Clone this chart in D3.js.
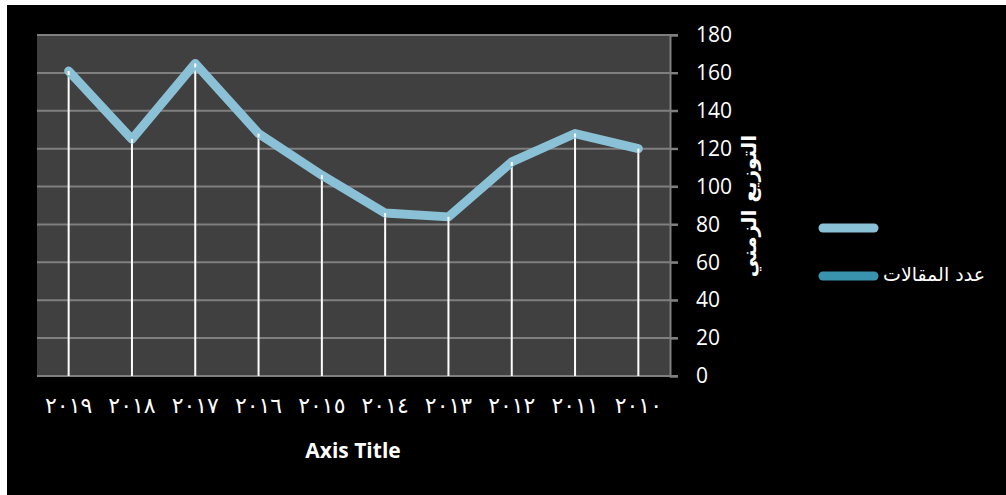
<!DOCTYPE html>
<html><head><meta charset="utf-8">
<script src="https://cdn.jsdelivr.net/npm/d3@7"></script>
<style>
html,body{margin:0;padding:0;background:#fff;}
svg{display:block;}
</style></head>
<body>
<svg id="c" width="1006" height="495"></svg>
<script>
const categories = ["٢٠١٩","٢٠١٨","٢٠١٧","٢٠١٦","٢٠١٥","٢٠١٤","٢٠١٣","٢٠١٢","٢٠١١","٢٠١٠"];
const seriesValues = [161, 125, 165, 128, 106, 86, 84, 113, 128, 120];
const yTicks = [0, 20, 40, 60, 80, 100, 120, 140, 160, 180];
const seriesName = "عدد المقالات";
const yTitle = "التوزيع الزمني";
const xTitle = "Axis Title";

(function(){
const svg = d3.select("#c");
svg.append("rect").attr("x",7).attr("y",5).attr("width",999).attr("height",490).attr("fill","#000");

const pl = 37, pr = 670, pt = 35, pb = 376;
const x = d3.scaleBand().domain(categories).range([pl, pr]);
const y = d3.scaleLinear().domain([0,180]).range([pb, pt]);

svg.append("rect").attr("x",pl).attr("y",pt).attr("width",pr-pl).attr("height",pb-pt).attr("fill","#404040");

svg.append("g").selectAll("line").data(yTicks).join("line")
  .attr("x1",pl).attr("x2",pr+8).attr("y1",d=>y(d)).attr("y2",d=>y(d))
  .attr("stroke","#7f7f7f").attr("stroke-width",2);

const yAxis = d3.axisRight(y).tickValues(yTicks).tickSize(8).tickPadding(18);
const ga = svg.append("g").attr("transform",`translate(${pr},0)`).call(yAxis);
ga.select(".domain").attr("stroke","#7f7f7f").attr("stroke-width",2);
ga.selectAll(".tick line").attr("stroke","#7f7f7f").attr("stroke-width",2);
ga.selectAll("text").attr("fill","#fff").attr("font-family","'Open Sans', 'Noto Sans', sans-serif").attr("font-size",21);

const xAxis = d3.axisBottom(x).tickSize(0).tickPadding(21);
const gx = svg.append("g").attr("transform",`translate(0,${pb})`).call(xAxis);
gx.select(".domain").remove();
gx.selectAll("text").attr("fill","#fff").attr("font-family","'DejaVu Sans', sans-serif").attr("font-size",22).attr("letter-spacing",1);

const cx = d => x(d) + x.bandwidth()/2;
svg.append("g").selectAll("line").data(categories).join("line")
  .attr("x1",d=>cx(d)).attr("x2",d=>cx(d))
  .attr("y1",(d,i)=>y(seriesValues[i])).attr("y2",pb)
  .attr("stroke","#fff").attr("stroke-width",2);

const line = d3.line().x((d,i)=>cx(categories[i])).y(d=>y(d));
svg.append("path").datum(seriesValues).attr("d",line)
  .attr("fill","none").attr("stroke","#8bc1d6").attr("stroke-width",9)
  .attr("stroke-linecap","round").attr("stroke-linejoin","round");

svg.append("g").selectAll("line").data(categories).join("line")
  .attr("x1",d=>cx(d)).attr("x2",d=>cx(d))
  .attr("y1",(d,i)=>y(seriesValues[i])).attr("y2",(d,i)=>y(seriesValues[i])+4)
  .attr("stroke","#fff").attr("stroke-width",2);

svg.append("text").attr("x",353).attr("y",458).attr("text-anchor","middle")
  .attr("fill","#fff").attr("font-family","'Open Sans', sans-serif").attr("font-weight","bold").attr("font-size",21).text(xTitle);
svg.append("text").attr("transform","translate(756,206) rotate(-90)").attr("text-anchor","middle")
  .attr("fill","#fff").attr("font-family","'DejaVu Sans', sans-serif").attr("font-weight","bold").attr("font-size",20).text(yTitle);

svg.append("line").attr("x1",823).attr("x2",874).attr("y1",228).attr("y2",228)
  .attr("stroke","#8bc1d6").attr("stroke-width",9).attr("stroke-linecap","round");
svg.append("line").attr("x1",823).attr("x2",874).attr("y1",276).attr("y2",276)
  .attr("stroke","#3a93ae").attr("stroke-width",9).attr("stroke-linecap","round");
svg.append("text").attr("x",985).attr("y",281).attr("text-anchor","end")
  .attr("fill","#fff").attr("font-family","'DejaVu Sans', sans-serif").attr("font-size",19).text(seriesName);
})();
</script>
</body></html>
